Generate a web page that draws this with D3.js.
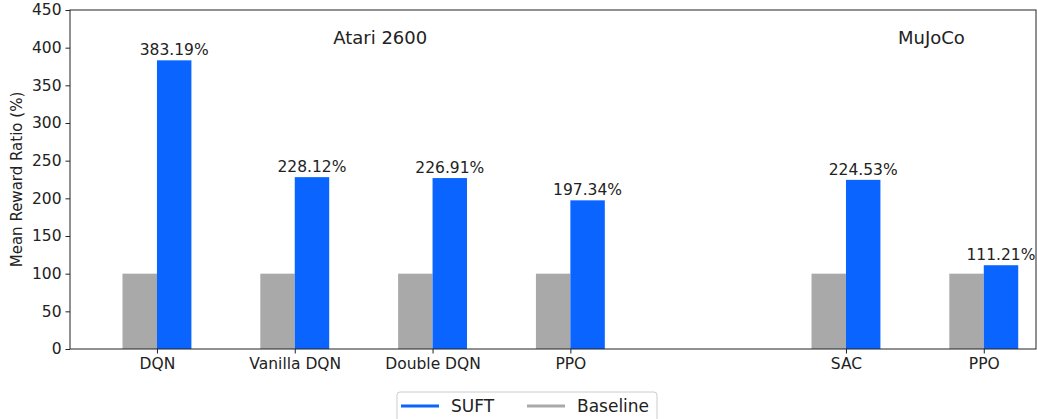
<!DOCTYPE html>
<html>
<head>
<meta charset="utf-8">
<script src="https://cdn.jsdelivr.net/npm/d3@7"></script>
<style>
  body { margin: 0; background: #fff; }
  text { font-family: "DejaVu Sans", sans-serif; fill: #222; }
</style>
</head>
<body>
<script>
// data
var categories = ["DQN", "Vanilla DQN", "Double DQN", "PPO", "", "SAC", "PPO"];
var suftValues = [383.19, 228.12, 226.91, 197.34, null, 224.53, 111.21];
var baselineValues = [100, 100, 100, 100, null, 100, 100];
var yTicks = [0, 50, 100, 150, 200, 250, 300, 350, 400, 450];
var groupTitles = [{ name: "Atari 2600", pos: 1.62 }, { name: "MuJoCo", pos: 5.62 }];

var width = 1037, height = 419;
var margin = { left: 70, right: 1036, top: 10, bottom: 349 };
var barW = 0.25;
var suftColor = "#0a64ff", baseColor = "#a9a9a9";

var svg = d3.select("body").append("svg")
    .attr("width", width)
    .attr("height", height);

var x = d3.scaleLinear().domain([-0.631, 6.379]).range([margin.left, margin.right]);
var y = d3.scaleLinear().domain([0, 450]).range([margin.bottom, margin.top]);

var idx = d3.range(categories.length).filter(function(i){ return suftValues[i] != null; });

// baseline bars (left of tick)
svg.selectAll(".base").data(idx).enter().append("rect")
    .attr("class", "base")
    .attr("x", function(i){ return x(i - barW); })
    .attr("width", function(){ return x(barW) - x(0); })
    .attr("y", function(i){ return y(baselineValues[i]); })
    .attr("height", function(i){ return y(0) - y(baselineValues[i]); })
    .attr("fill", baseColor);

// SUFT bars (right of tick)
svg.selectAll(".suft").data(idx).enter().append("rect")
    .attr("class", "suft")
    .attr("x", function(i){ return x(i); })
    .attr("width", function(){ return x(barW) - x(0); })
    .attr("y", function(i){ return y(suftValues[i]); })
    .attr("height", function(i){ return y(0) - y(suftValues[i]); })
    .attr("fill", suftColor);

// value labels
svg.selectAll(".val").data(idx).enter().append("text")
    .attr("x", function(i){ return x(i + barW / 2); })
    .attr("y", function(i){ return y(suftValues[i]) - 5; })
    .attr("text-anchor", "middle")
    .style("font-size", "15.5px")
    .text(function(i){ return suftValues[i].toFixed(2) + "%"; });

// axes
var yAxis = svg.append("g")
    .attr("transform", "translate(" + margin.left + ",0)")
    .call(d3.axisLeft(y).tickValues(yTicks).tickSize(4.5).tickPadding(4));
var xAxis = svg.append("g")
    .attr("transform", "translate(0," + margin.bottom + ")")
    .call(d3.axisBottom(x).tickValues(idx).tickSize(4.5).tickPadding(4)
        .tickFormat(function(i){ return categories[i]; }));
[yAxis, xAxis].forEach(function(g){
    g.select(".domain").remove();
    g.selectAll("line").attr("stroke", "#222");
    g.selectAll("text").style("font-size", "15.5px").attr("fill", "#222")
        .style("font-family", "DejaVu Sans, sans-serif");
});

// frame
svg.append("rect")
    .attr("x", margin.left).attr("y", margin.top)
    .attr("width", margin.right - margin.left)
    .attr("height", margin.bottom - margin.top)
    .attr("fill", "none").attr("stroke", "#222").attr("stroke-width", 1);

// group titles
svg.selectAll(".grp").data(groupTitles).enter().append("text")
    .attr("x", function(d){ return x(d.pos); })
    .attr("y", 44)
    .attr("text-anchor", "middle")
    .style("font-size", "18px")
    .text(function(d){ return d.name; });

// y label
svg.append("text")
    .attr("transform", "translate(22," + (margin.top + margin.bottom) / 2 + ") rotate(-90)")
    .attr("text-anchor", "middle")
    .style("font-size", "15px")
    .text("Mean Reward Ratio (%)");

// legend
var legendItems = [{ name: "SUFT", color: suftColor }, { name: "Baseline", color: baseColor }];
var lg = svg.append("g").attr("transform", "translate(397,392)");
lg.append("rect")
    .attr("width", 260).attr("height", 40).attr("rx", 3)
    .attr("fill", "#fff").attr("stroke", "#ccc");
var li = lg.selectAll(".li").data(legendItems).enter().append("g")
    .attr("transform", function(d, i){ return "translate(" + (4 + i * 126) + ",14)"; });
li.append("line")
    .attr("x1", 0).attr("x2", 38)
    .attr("stroke", function(d){ return d.color; })
    .attr("stroke-width", 3);
li.append("text")
    .attr("x", 50).attr("y", 6)
    .style("font-size", "17px")
    .text(function(d){ return d.name; });
</script>
</body>
</html>
